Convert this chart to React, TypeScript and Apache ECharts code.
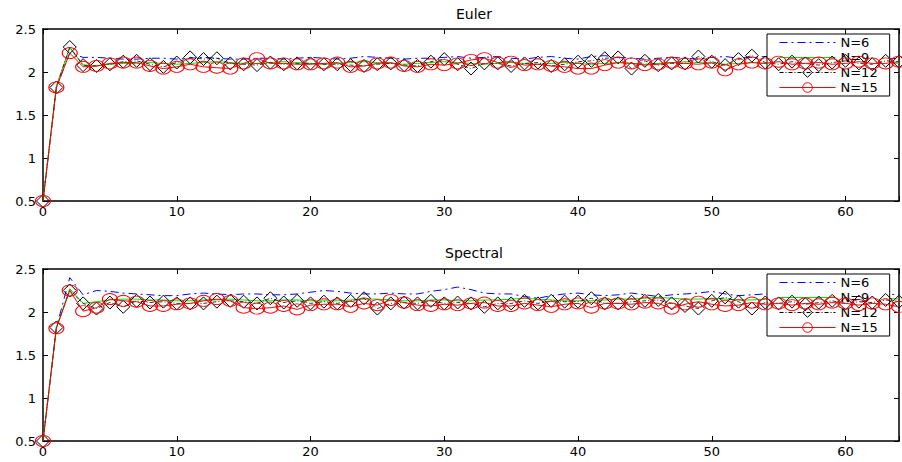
import React, { useEffect, useRef } from "react";
import * as echarts from "echarts";

const seriesNames = ["N=6", "N=9", "N=12", "N=15"];
const panelTitles = ["Euler", "Spectral"];
const xTickLabels = [0, 10, 20, 30, 40, 50, 60];

const eulerN6 = [
  0.5, 1.82, 2.22, 2.17, 2.17, 2.16, 2.15, 2.15, 2.16, 2.16,
  2.15, 2.16, 2.17, 2.16, 2.15, 2.15, 2.16, 2.16, 2.15, 2.16,
  2.17, 2.16, 2.15, 2.16, 2.18, 2.17, 2.16, 2.15, 2.16, 2.16,
  2.17, 2.18, 2.16, 2.17, 2.18, 2.16, 2.15, 2.17, 2.18, 2.16,
  2.15, 2.18, 2.19, 2.17, 2.16, 2.15, 2.16, 2.17, 2.16, 2.15,
  2.17, 2.18, 2.16, 2.17, 2.18, 2.17, 2.16, 2.17, 2.16, 2.15,
  2.16, 2.17, 2.16, 2.15, 2.16,
];
const eulerN9 = [
  0.5, 1.84, 2.28, 2.08, 2.07, 2.09, 2.10, 2.10, 2.11, 2.10,
  2.09, 2.10, 2.11, 2.12, 2.11, 2.10, 2.10, 2.11, 2.12, 2.11,
  2.10, 2.09, 2.10, 2.11, 2.12, 2.11, 2.10, 2.09, 2.10, 2.11,
  2.12, 2.11, 2.10, 2.09, 2.10, 2.11, 2.10, 2.09, 2.10, 2.11,
  2.10, 2.09, 2.10, 2.11, 2.10, 2.09, 2.10, 2.11, 2.12, 2.11,
  2.10, 2.09, 2.10, 2.11, 2.10, 2.11, 2.12, 2.11, 2.10, 2.11,
  2.10, 2.11, 2.12, 2.11, 2.10,
];
const eulerN12 = [
  0.5, 1.82, 2.29, 2.08, 2.07, 2.09, 2.12, 2.13, 2.09, 2.06,
  2.11, 2.17, 2.15, 2.16, 2.10, 2.09, 2.08, 2.11, 2.09, 2.10,
  2.10, 2.09, 2.09, 2.08, 2.07, 2.09, 2.10, 2.08, 2.07, 2.12,
  2.15, 2.09, 2.04, 2.10, 2.10, 2.07, 2.10, 2.11, 2.07, 2.09,
  2.12, 2.13, 2.16, 2.17, 2.04, 2.13, 2.08, 2.10, 2.10, 2.18,
  2.12, 2.08, 2.15, 2.19, 2.11, 2.09, 2.12, 2.10, 2.08, 2.11,
  2.13, 2.10, 2.09, 2.13, 2.12,
];
const eulerN15 = [
  0.5, 1.82, 2.22, 2.06, 2.07, 2.10, 2.11, 2.11, 2.07, 2.04,
  2.06, 2.09, 2.06, 2.05, 2.04, 2.10, 2.16, 2.10, 2.10, 2.09,
  2.09, 2.10, 2.11, 2.06, 2.07, 2.10, 2.11, 2.07, 2.06, 2.09,
  2.08, 2.10, 2.14, 2.16, 2.11, 2.12, 2.08, 2.09, 2.07, 2.06,
  2.04, 2.04, 2.08, 2.11, 2.10, 2.08, 2.09, 2.11, 2.10, 2.09,
  2.11, 2.02, 2.09, 2.11, 2.10, 2.12, 2.09, 2.10, 2.11, 2.09,
  2.10, 2.12, 2.10, 2.10, 2.12,
];

const spectralN6 = [
  0.5, 1.82, 2.40, 2.20, 2.25, 2.24, 2.22, 2.21, 2.20, 2.19,
  2.19, 2.21, 2.22, 2.21, 2.20, 2.21, 2.21, 2.20, 2.20, 2.21,
  2.23, 2.25, 2.24, 2.22, 2.21, 2.21, 2.22, 2.21, 2.21, 2.24,
  2.26, 2.29, 2.26, 2.22, 2.21, 2.21, 2.18, 2.16, 2.19, 2.21,
  2.22, 2.20, 2.19, 2.20, 2.22, 2.20, 2.18, 2.20, 2.21, 2.22,
  2.24, 2.21, 2.19, 2.20, 2.21, 2.20, 2.21, 2.22, 2.20, 2.21,
  2.22, 2.21, 2.20, 2.21, 2.20,
];
const spectralN9 = [
  0.5, 1.82, 2.27, 2.10, 2.12, 2.14, 2.15, 2.15, 2.14, 2.14,
  2.13, 2.13, 2.14, 2.14, 2.15, 2.14, 2.13, 2.13, 2.14, 2.14,
  2.13, 2.13, 2.13, 2.14, 2.15, 2.15, 2.14, 2.13, 2.13, 2.14,
  2.14, 2.13, 2.13, 2.14, 2.14, 2.15, 2.16, 2.15, 2.14, 2.13,
  2.13, 2.13, 2.14, 2.15, 2.15, 2.16, 2.17, 2.16, 2.15, 2.15,
  2.16, 2.15, 2.14, 2.14, 2.15, 2.15, 2.14, 2.14, 2.15, 2.15,
  2.14, 2.15, 2.16, 2.16, 2.15,
];
const spectralN12 = [
  0.5, 1.82, 2.25, 2.10, 2.04, 2.11, 2.06, 2.13, 2.11, 2.12,
  2.10, 2.10, 2.10, 2.12, 2.13, 2.12, 2.10, 2.16, 2.11, 2.13,
  2.10, 2.12, 2.10, 2.13, 2.16, 2.04, 2.10, 2.11, 2.10, 2.13,
  2.10, 2.11, 2.10, 2.06, 2.10, 2.10, 2.13, 2.10, 2.13, 2.12,
  2.12, 2.16, 2.10, 2.10, 2.12, 2.13, 2.14, 2.10, 2.07, 2.04,
  2.13, 2.17, 2.12, 2.04, 2.11, 2.10, 2.12, 2.09, 2.11, 2.13,
  2.10, 2.12, 2.11, 2.14, 2.12,
];
const spectralN15 = [
  0.5, 1.81, 2.25, 2.01, 2.05, 2.15, 2.13, 2.12, 2.07, 2.07,
  2.09, 2.10, 2.13, 2.15, 2.13, 2.05, 2.04, 2.05, 2.07, 2.03,
  2.08, 2.09, 2.09, 2.06, 2.10, 2.08, 2.14, 2.11, 2.08, 2.07,
  2.09, 2.08, 2.10, 2.11, 2.07, 2.07, 2.10, 2.08, 2.06, 2.09,
  2.10, 2.05, 2.10, 2.10, 2.09, 2.11, 2.10, 2.04, 2.09, 2.12,
  2.09, 2.07, 2.08, 2.11, 2.09, 2.10, 2.08, 2.10, 2.09, 2.11,
  2.10, 2.08, 2.10, 2.09, 2.06,
];

const panels = [
  [eulerN6, eulerN9, eulerN12, eulerN15],
  [spectralN6, spectralN9, spectralN12, spectralN15],
];

const FONT = "DejaVu Sans";
const CLEAR = "rgba(0,0,0,0)";

export default function App() {
  const ref = useRef<HTMLDivElement>(null);
  useEffect(() => {
    const chart = echarts.init(ref.current!, null, { renderer: "svg" });
    const gridTops = [29, 269];
    const axisLine = { show: true, onZero: false, lineStyle: { color: "#000", width: 1.5 } };
    const axisTick = { show: true, inside: true, length: 5, lineStyle: { color: "#000", width: 1 } };

    const xAxis: any[] = [];
    const yAxis: any[] = [];
    gridTops.forEach((_, g) => {
      xAxis.push({
        type: "value", gridIndex: g, min: 0, max: 64, interval: 10, position: "bottom",
        axisLine, axisTick, splitLine: { show: false },
        axisLabel: {
          color: "#000", fontSize: 13, fontFamily: FONT, margin: 4,
          formatter: (v: number) => (xTickLabels.includes(v) ? String(v) : ""),
        },
      });
      xAxis.push({
        type: "value", gridIndex: g, min: 0, max: 64, interval: 10, position: "top",
        axisLine, axisTick, splitLine: { show: false }, axisLabel: { show: false },
      });
      yAxis.push({
        type: "value", gridIndex: g, min: 0.5, max: 2.5, interval: 0.5, position: "left",
        axisLine, axisTick, splitLine: { show: false },
        axisLabel: { color: "#000", fontSize: 13, fontFamily: FONT, margin: 7 },
      });
      yAxis.push({
        type: "value", gridIndex: g, min: 0.5, max: 2.5, interval: 0.5, position: "right",
        axisLine, axisTick, splitLine: { show: false }, axisLabel: { show: false },
      });
    });

    const styles = [
      { color: "#0000ff", symbol: "none", lineType: [8, 4, 2, 4] as any, size: 0 as any },
      { color: "#00e600", symbol: "none", lineType: "solid" as any, size: 0 as any },
      { color: "#000000", symbol: "diamond", lineType: [4, 2, 1, 2] as any, size: [13, 13] as any },
      { color: "#ff0000", symbol: "circle", lineType: "solid" as any, size: [15, 11] as any },
    ];

    const series: any[] = [];
    panels.forEach((sets, g) => {
      sets.forEach((vals, k) => {
        const st = styles[k];
        const marked = st.symbol !== "none";
        series.push({
          type: "line",
          name: seriesNames[k],
          xAxisIndex: g * 2,
          yAxisIndex: g * 2,
          data: vals.map((v, i) => [i, v]),
          symbol: st.symbol,
          symbolSize: st.size,
          showSymbol: marked,
          showAllSymbol: true,
          silent: true,
          z: 2 + k,
          lineStyle: { color: st.color, width: k === 2 ? 0.8 : 1, type: st.lineType },
          itemStyle: {
            color: CLEAR,
            borderColor: marked ? st.color : CLEAR,
            borderWidth: marked ? 1 : 0,
          },
        });
      });
    });

    chart.setOption({
      animation: false,
      backgroundColor: "#fff",
      title: panelTitles.map((t, g) => ({
        text: t,
        left: 474,
        textAlign: "center",
        top: g === 0 ? 7 : 246,
        padding: 0,
        textStyle: { color: "#000", fontSize: 14, fontWeight: "normal", fontFamily: FONT },
      })),
      grid: gridTops.map((top) => ({
        left: 43, right: -3, top, height: 172, containLabel: false,
      })),
      xAxis,
      yAxis,
      legend: gridTops.map((top) => ({
        orient: "vertical",
        left: 767,
        top: top + 5,
        data: seriesNames,
        backgroundColor: "#fff",
        borderColor: "#000",
        borderWidth: 1,
        padding: [1, 12, 1, 12],
        itemWidth: 56,
        itemHeight: 12,
        itemGap: 0,
        selectedMode: false,
        itemStyle: { borderWidth: 1 },
        lineStyle: { width: 1 },
        textStyle: { color: "#000", fontSize: 13, fontFamily: FONT, lineHeight: 15 },
      })),
      series,
    });
    return () => chart.dispose();
  }, []);
  return (
    <div
      ref={ref}
      style={{ position: "fixed", left: 0, top: 0, width: 902, height: 462 }}
    />
  );
}
